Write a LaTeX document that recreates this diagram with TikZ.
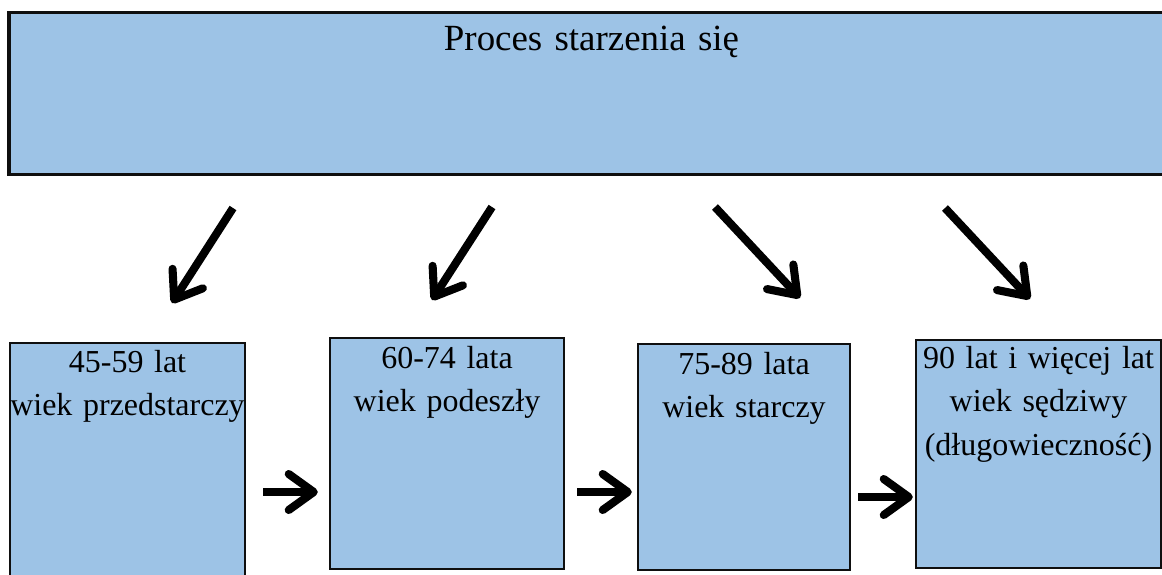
\documentclass[tikz,border=0pt]{standalone}
\usepackage{fontspec}
\setmainfont{Liberation Serif}
\usetikzlibrary{arrows.meta,positioning}
\definecolor{boxfill}{RGB}{157,195,230}
\definecolor{boxbdr}{RGB}{15,15,15}
\tikzset{
  %% header block (whole process)
  hdrblk/.style={rectangle,draw=boxbdr,fill=boxfill,line width=1.8pt,
    inner sep=0pt,align=center,anchor=north,
    font=\fontsize{21}{25}\selectfont},
  %% age group block, text kept at the top
  ageblk/.style={rectangle,draw=boxbdr,fill=boxfill,line width=1.4pt,
    inner sep=0pt,align=center,anchor=north,
    font=\fontsize{18.2}{24.7}\selectfont},
  %% arrows
  barr/.style={-{Straight Barb[length=0.5cm,width=0.72cm,round]},line width=4.6pt},
}

\begin{document}
\begin{tikzpicture}
  \useasboundingbox (0,0) rectangle (23.24,-11.48);

  \node[hdrblk,text width=23.3cm,text height=0.76cm,text depth=2.48cm] (proc) at (11.83,-0.22) {Proces starzenia się};

  \node[ageblk,text width=4.70cm,text height=0.58cm,text depth=4.58cm] (g45) at (2.55,-6.84)  {45-59 lat\\wiek przedstarczy};
  \node[ageblk,text width=4.68cm,text height=0.60cm,text depth=4.02cm] (g60) at (8.94,-6.74)  {60-74 lata\\wiek podeszły};
  \node[ageblk,text width=4.24cm,text height=0.60cm,text depth=3.92cm] (g75) at (14.88,-6.86) {75-89 lata\\wiek starczy};
  \node[ageblk,text width=4.90cm,text height=0.56cm,text depth=4.00cm] (g90) at (20.77,-6.78) {90 lat i więcej lat\\wiek sędziwy\\(długowieczność)};

  %% arrow ends below the header
  \coordinate (d1s) at (4.66,-4.16);  \coordinate (d1e) at (3.44,-6.06);
  \coordinate (d2s) at (9.84,-4.14);  \coordinate (d2e) at (8.64,-6.00);
  \coordinate (d3s) at (14.30,-4.14); \coordinate (d3e) at (16.00,-5.96);
  \coordinate (d4s) at (18.90,-4.16); \coordinate (d4e) at (20.60,-5.98);
  \coordinate (h1) at (0,-9.84);
  \coordinate (h3) at (0,-9.94);

  \draw[barr] (d1s)--(d1e);
  \draw[barr] (d2s)--(d2e);
  \draw[barr] (d3s)--(d3e);
  \draw[barr] (d4s)--(d4e);

  \draw[barr,shorten <=0.34cm,shorten >=0.22cm] (g45.east |- h1)--(g60.west |- h1);
  \draw[barr,shorten <=0.24cm,shorten >=0.10cm] (g60.east |- h1)--(g75.west |- h1);
  \draw[barr,shorten <=0.14cm,shorten >=0.04cm] (g75.east |- h3)--(g90.west |- h3);
\end{tikzpicture}
\end{document}
